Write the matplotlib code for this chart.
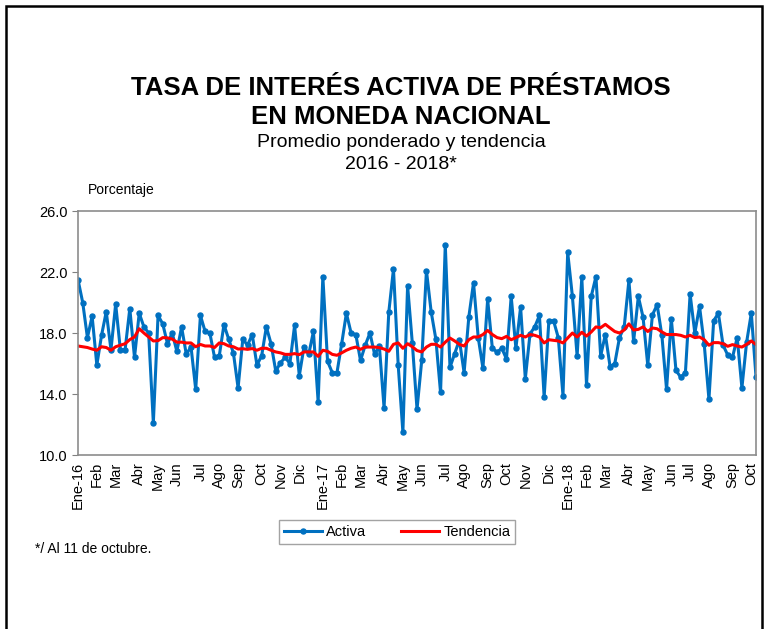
import matplotlib.pyplot as plt
import pandas as pd
from matplotlib.patches import Rectangle

plt.rcParams['font.family'] = ['Liberation Sans', 'DejaVu Sans']

# weekly weighted average lending rate (Activa) and trend (Tendencia), Jan 2016 - Oct 11 2018
activa = [21.5, 20.0, 17.7, 19.1, 15.9, 17.85, 19.4, 16.9, 19.9, 16.9,
          16.9, 19.6, 16.4, 19.3, 18.4, 18.0, 12.1, 19.15, 18.6, 17.3,
          18.0, 16.8, 18.4, 16.6, 17.1, 14.3, 19.15, 18.1, 18.0, 16.4,
          16.5, 18.55, 17.6, 16.7, 14.4, 17.6, 17.2, 17.9, 15.9, 16.5,
          18.4, 17.3, 15.5, 16.05, 16.4, 16.0, 18.5, 15.2, 17.1, 16.6,
          18.1, 13.5, 21.7, 16.15, 15.4, 15.4, 17.3, 19.3, 18.0, 17.9,
          16.2, 17.2, 18.0, 16.6, 17.15, 13.1, 19.35, 22.2, 15.9, 11.5,
          21.1, 17.35, 13.0, 16.2, 22.1, 19.4, 17.6, 14.1, 23.8, 15.75,
          16.65, 17.55, 15.4, 19.05, 21.3, 17.7, 15.7, 20.2, 17.0, 16.75,
          17.0, 16.3, 20.4, 17.0, 19.7, 15.0, 17.95, 18.4, 19.15, 13.8,
          18.8, 18.8, 17.7, 13.9, 23.3, 20.4, 16.5, 21.65, 14.6, 20.4,
          21.7, 16.5, 17.9, 15.8, 16.0, 17.7, 18.4, 21.45, 17.45, 20.4,
          19.05, 15.9, 19.2, 19.85, 17.85, 14.3, 18.95, 15.55, 15.1, 15.4,
          20.55, 18.0, 19.75, 17.25, 13.65, 18.8, 19.3, 17.2, 16.55, 16.4,
          17.7, 14.4, 17.4, 19.3, 15.1]

tendencia = [17.15, 17.1, 17.05, 16.95, 16.87, 17.1, 17.05, 16.87, 17.1, 17.2,
             17.3, 17.57, 17.74, 18.28, 18.0, 17.74, 17.48, 17.5, 17.7, 17.68,
             17.6, 17.4, 17.4, 17.35, 17.35, 17.1, 17.25, 17.15, 17.15, 17.05,
             17.35, 17.3, 17.15, 17.1, 16.95, 16.97, 16.93, 16.98, 16.87, 17.0,
             17.0, 16.87, 16.76, 16.7, 16.6, 16.6, 16.65, 16.58, 16.76, 16.76,
             16.76, 16.47, 16.87, 16.8, 16.6, 16.54, 16.7, 16.87, 17.0, 17.08,
             16.93, 17.08, 17.08, 17.08, 17.04, 16.95, 16.8, 17.26, 17.35, 17.0,
             17.3, 17.1, 16.85, 16.76, 17.08, 17.26, 17.26, 17.08, 17.4, 17.67,
             17.48, 17.26, 17.15, 17.56, 17.74, 17.74, 17.9, 18.17, 17.9, 17.7,
             17.63, 17.78, 17.56, 17.7, 17.85, 17.74, 17.9, 17.85, 17.74, 17.35,
             17.56, 17.52, 17.48, 17.35, 17.67, 18.0, 17.74, 18.05, 17.8, 18.07,
             18.4, 18.35, 18.57, 18.33, 18.1, 18.0, 18.2, 18.6, 18.2, 18.24,
             18.4, 18.1, 18.33, 18.28, 18.07, 17.9, 17.9, 17.9, 17.85, 17.74,
             17.85, 17.7, 17.74, 17.56, 17.2, 17.37, 17.37, 17.3, 17.13, 17.24,
             17.15, 17.08, 17.26, 17.48, 17.24]

meses = ['Ene', 'Feb', 'Mar', 'Abr', 'May', 'Jun', 'Jul', 'Ago', 'Sep', 'Oct', 'Nov', 'Dic']

fechas = pd.date_range('2016-01-07', periods=len(activa), freq='7D')

# first week of every month gets a label
tick_pos = []
tick_lab = []
prev = None
for i, f in enumerate(fechas):
    if f.month != prev:
        tick_pos.append(i)
        lab = meses[f.month - 1]
        if f.month == 1:
            lab = lab + '-' + str(f.year)[2:]
        tick_lab.append(lab)
        prev = f.month

fig = plt.figure(figsize=(7.67, 6.29), dpi=100)
ax = fig.add_axes([0.1017, 0.2766, 0.8840, 0.3879])

x = list(range(len(activa)))
ax.plot(x, activa, color='#0070C0', linewidth=2.2, marker='o', markersize=3.6, label='Activa')
ax.plot(x, tendencia, color='#FF0000', linewidth=2.2, label='Tendencia')

ax.set_xlim(0, len(activa) - 1)
ax.set_ylim(10, 26)
ax.set_yticks([10, 14, 18, 22, 26])
ax.set_yticklabels(['%.1f' % v for v in [10, 14, 18, 22, 26]], fontsize=10.5)
ax.set_xticks(tick_pos)
ax.set_xticklabels(tick_lab, rotation=90, fontsize=10.5)
ax.tick_params(axis='x', length=0, pad=5)
ax.tick_params(axis='y', length=4, color='#808080', direction='out')
for s in ax.spines.values():
    s.set_color('#8c8c8c')
    s.set_linewidth(1.2)

fig.text(0.523, 0.860, 'TASA DE INTERÉS ACTIVA DE PRÉSTAMOS', ha='center', va='center',
         fontsize=18.5, fontweight='bold')
fig.text(0.523, 0.814, 'EN MONEDA NACIONAL', ha='center', va='center',
         fontsize=18.5, fontweight='bold')
fig.text(0.523, 0.773, 'Promedio ponderado y tendencia', ha='center', va='center', fontsize=14)
fig.text(0.523, 0.739, '2016 - 2018*', ha='center', va='center', fontsize=14)
fig.text(0.1147, 0.698, 'Porcentaje', ha='left', va='center', fontsize=10)
fig.text(0.046, 0.127, '*/ Al 11 de octubre.', ha='left', va='center', fontsize=10)

leg = ax.legend(loc='center', bbox_to_anchor=(0.5176, 0.154), bbox_transform=fig.transFigure,
                ncol=2, fontsize=10.5, frameon=True, fancybox=False, handlelength=2.6,
                handletextpad=0.3, columnspacing=2.4, borderpad=0.35, borderaxespad=0,
                numpoints=1)
leg.get_frame().set_edgecolor('#8c8c8c')
leg.get_frame().set_linewidth(1.0)

# outer frame of the picture (bottom edge falls outside)
fig.add_artist(Rectangle((6 / 767, -0.05), 756 / 767, 1 - 6 / 629 + 0.05, transform=fig.transFigure,
                         fill=False, edgecolor='black', linewidth=1.8, clip_on=False))

fig.savefig('out.png', dpi=100)
